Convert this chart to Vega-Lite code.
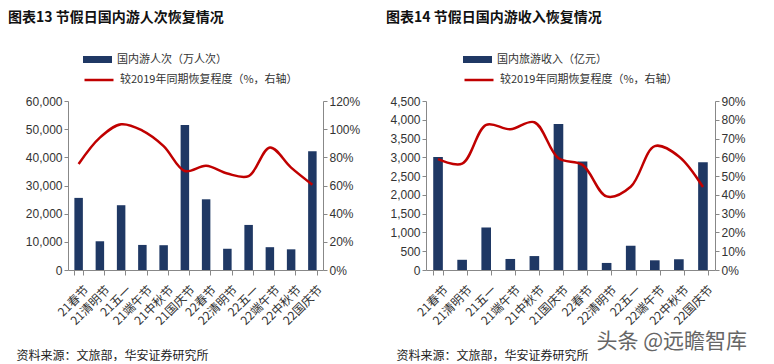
{
  "$schema": "https://vega.github.io/schema/vega-lite/v6.json",
  "padding": {"left": 8, "top": 11, "right": 0, "bottom": 0},
  "background": "white",
  "spacing": 25,
  "config": {
    "view": {"stroke": null},
    "axis": {
      "domainColor": "#888888",
      "tickColor": "#888888",
      "labelColor": "#333333",
      "labelFont": "Liberation Sans",
      "labelFontSize": 12,
      "grid": false,
      "tickSize": 4,
      "domainWidth": 1
    },
    "legend": {"padding": 0, "labelLimit": 400}
  },
  "datasets": {
    "people": [
      {"cat": "21春节", "n": 25600, "pr": 75.3},
      {"cat": "21清明节", "n": 10200, "pr": 94.0},
      {"cat": "21五一", "n": 23000, "pr": 103.5},
      {"cat": "21端午节", "n": 8900, "pr": 99.0},
      {"cat": "21中秋节", "n": 8800, "pr": 88.0},
      {"cat": "21国庆节", "n": 51500, "pr": 70.3},
      {"cat": "22春节", "n": 25100, "pr": 74.0},
      {"cat": "22清明节", "n": 7540, "pr": 68.5},
      {"cat": "22五一", "n": 16000, "pr": 66.7},
      {"cat": "22端午节", "n": 8100, "pr": 87.0},
      {"cat": "22中秋节", "n": 7340, "pr": 72.7},
      {"cat": "22国庆节", "n": 42200, "pr": 60.6}
    ],
    "revenue": [
      {"cat": "21春节", "r": 3011, "rp": 59.0},
      {"cat": "21清明节", "r": 272, "rp": 56.6},
      {"cat": "21五一", "r": 1132, "rp": 77.3},
      {"cat": "21端午节", "r": 294, "rp": 74.9},
      {"cat": "21中秋节", "r": 371, "rp": 78.7},
      {"cat": "21国庆节", "r": 3890, "rp": 59.5},
      {"cat": "22春节", "r": 2892, "rp": 56.0},
      {"cat": "22清明节", "r": 188, "rp": 39.2},
      {"cat": "22五一", "r": 646, "rp": 44.3},
      {"cat": "22端午节", "r": 258, "rp": 66.0},
      {"cat": "22中秋节", "r": 287, "rp": 60.5},
      {"cat": "22国庆节", "r": 2872, "rp": 44.2}
    ]
  },
  "title": {
    "text": "头条 @远瞻智库",
    "orient": "bottom",
    "anchor": "end",
    "font": "Noto Sans CJK SC",
    "fontSize": 21,
    "fontWeight": "normal",
    "color": "#666666",
    "offset": -30,
    "dx": 2
  },
  "resolve": {
    "scale": {"fill": "independent", "stroke": "independent"},
    "legend": {"fill": "independent", "stroke": "independent"}
  },
  "hconcat": [
    {
      "width": 255,
      "height": 169,
      "title": {
        "text": "图表13  节假日国内游人次恢复情况",
        "anchor": "start",
        "dx": -8,
        "font": "Noto Sans CJK SC",
        "fontSize": 14,
        "fontWeight": "bold",
        "color": "#111111",
        "offset": 20
      },
      "data": {"name": "people"},
      "layer": [
        {
          "mark": {"type": "bar", "color": "#1F3864"},
          "encoding": {
            "x": {
              "field": "cat", "type": "nominal", "sort": null,
              "scale": {"paddingInner": 0.6, "paddingOuter": 0.3},
              "axis": {
                "title": "资料来源：文旅部，华安证券研究所",
                "titleFont": "Noto Sans CJK SC",
                "titleFontSize": 12,
                "titleFontWeight": "normal",
                "titleColor": "#222222",
                "titleAnchor": "start",
                "titleAlign": "left",
                "titleBaseline": "middle",
                "titleX": -52,
                "titleY": 85,
                "labelAngle": -45,
                "labelFont": "Noto Sans CJK SC",
                "labelFontSize": 12,
                "labelPadding": 9,
                "labelOffset": 4,
                "tickBand": "extent",
                "tickSize": 5
              }
            },
            "y": {
              "field": "n", "type": "quantitative",
              "scale": {"domain": [0, 60000]},
              "axis": {"title": null, "values": [0, 10000, 20000, 30000, 40000, 50000, 60000], "format": ",d"}
            },
            "fill": {
              "datum": "国内游人次（万人次）",
              "scale": {"range": ["#1F3864"]},
              "legend": {
                "orient": "none", "legendX": 15, "legendY": -56, "title": null,
                "symbolType": "M-1,-0.24L1,-0.24L1,0.24L-1,0.24Z",
                "symbolSize": 841, "symbolStrokeWidth": 0,
                "labelFont": "Noto Sans CJK SC", "labelFontSize": 11, "labelColor": "#333333",
                "labelOffset": 5
              }
            }
          }
        },
        {
          "mark": {"type": "line", "interpolate": "catmull-rom", "strokeWidth": 2.5},
          "encoding": {
            "x": {"field": "cat", "type": "nominal", "sort": null},
            "y": {
              "field": "pr", "type": "quantitative",
              "scale": {"domain": [0, 120]},
              "axis": {"orient": "right", "title": null, "values": [0, 20, 40, 60, 80, 100, 120], "labelExpr": "datum.value + '%'"}
            },
            "stroke": {
              "datum": "较2019年同期恢复程度（%，右轴）",
              "scale": {"range": ["#C00000"]},
              "legend": {
                "orient": "none", "legendX": 15, "legendY": -37, "title": null,
                "symbolType": "stroke", "symbolSize": 841, "symbolStrokeWidth": 2.5,
                "labelFont": "Noto Sans CJK SC", "labelFontSize": 11, "labelColor": "#333333",
                "labelOffset": 5
              }
            }
          }
        }
      ],
      "resolve": {"scale": {"y": "independent"}}
    },
    {
      "width": 289,
      "height": 169,
      "title": {
        "text": "图表14  节假日国内游收入恢复情况",
        "anchor": "start",
        "dx": -4,
        "font": "Noto Sans CJK SC",
        "fontSize": 14,
        "fontWeight": "bold",
        "color": "#111111",
        "offset": 20
      },
      "data": {"name": "revenue"},
      "layer": [
        {
          "mark": {"type": "bar", "color": "#1F3864"},
          "encoding": {
            "x": {
              "field": "cat", "type": "nominal", "sort": null,
              "scale": {"paddingInner": 0.6, "paddingOuter": 0.3},
              "axis": {
                "title": "资料来源：文旅部，华安证券研究所",
                "titleFont": "Noto Sans CJK SC",
                "titleFontSize": 12,
                "titleFontWeight": "normal",
                "titleColor": "#222222",
                "titleAnchor": "start",
                "titleAlign": "left",
                "titleBaseline": "middle",
                "titleX": -30,
                "titleY": 85,
                "labelAngle": -45,
                "labelFont": "Noto Sans CJK SC",
                "labelFontSize": 12,
                "labelPadding": 9,
                "labelOffset": 4,
                "tickBand": "extent",
                "tickSize": 5
              }
            },
            "y": {
              "field": "r", "type": "quantitative",
              "scale": {"domain": [0, 4500]},
              "axis": {"title": null, "values": [0, 500, 1000, 1500, 2000, 2500, 3000, 3500, 4000, 4500], "format": ",d"}
            },
            "fill": {
              "datum": "国内旅游收入（亿元）",
              "scale": {"range": ["#1F3864"]},
              "legend": {
                "orient": "none", "legendX": 37, "legendY": -56, "title": null,
                "symbolType": "M-1,-0.24L1,-0.24L1,0.24L-1,0.24Z",
                "symbolSize": 841, "symbolStrokeWidth": 0,
                "labelFont": "Noto Sans CJK SC", "labelFontSize": 11, "labelColor": "#333333",
                "labelOffset": 5
              }
            }
          }
        },
        {
          "mark": {"type": "line", "interpolate": "catmull-rom", "strokeWidth": 2.5},
          "encoding": {
            "x": {"field": "cat", "type": "nominal", "sort": null},
            "y": {
              "field": "rp", "type": "quantitative",
              "scale": {"domain": [0, 90]},
              "axis": {"orient": "right", "title": null, "values": [0, 10, 20, 30, 40, 50, 60, 70, 80, 90], "labelExpr": "datum.value + '%'"}
            },
            "stroke": {
              "datum": "较2019年同期恢复程度（%，右轴）",
              "scale": {"range": ["#C00000"]},
              "legend": {
                "orient": "none", "legendX": 37, "legendY": -37, "title": null,
                "symbolType": "stroke", "symbolSize": 841, "symbolStrokeWidth": 2.5,
                "labelFont": "Noto Sans CJK SC", "labelFontSize": 11, "labelColor": "#333333",
                "labelOffset": 5
              }
            }
          }
        }
      ],
      "resolve": {"scale": {"y": "independent"}}
    }
  ]
}
